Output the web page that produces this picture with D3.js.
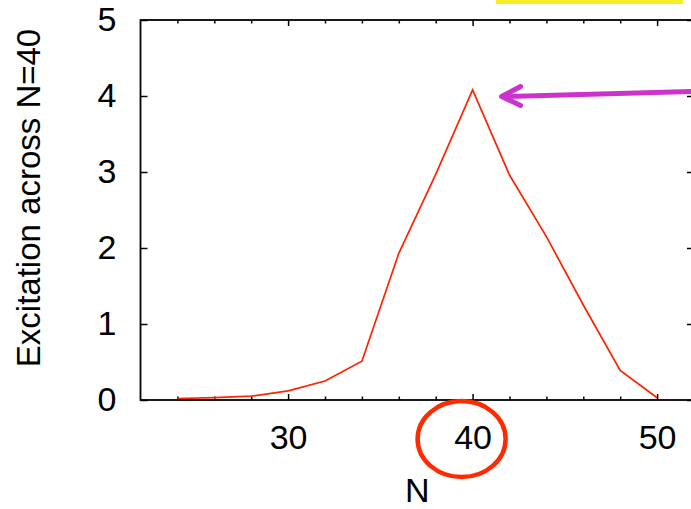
<!DOCTYPE html>
<html><head><meta charset="utf-8">
<script src="https://cdn.jsdelivr.net/npm/d3@7"></script>
<style>body{margin:0;background:#fff}svg{display:block}text{font-family:"Liberation Sans",Arial,sans-serif}</style>
</head><body>
<script>
const nValues = [24, 26, 28, 30, 32, 34, 36, 38, 40, 42, 44, 46, 48, 50];
const excitation = [0.02, 0.03, 0.05, 0.12, 0.25, 0.51, 1.93, 2.97, 4.08, 2.96, 2.15, 1.25, 0.39, 0.03];
const xMajorTicks = [30, 40, 50];
const xMinorTicks = [24, 26, 28, 32, 34, 36, 38, 42, 44, 46, 48, 52];
const yTicks = [0, 1, 2, 3, 4, 5];
const xLabel = "N";
const yLabel = "Excitation across N=40";

const W = 691, H = 509;
const svg = d3.select("body").append("svg").attr("width", W).attr("height", H);
const x = d3.scaleLinear().domain([22, 52]).range([140.5, 694]);
const y = d3.scaleLinear().domain([0, 5]).range([400, 20]);
const fs = 34;

// highlight bar at top
svg.append("rect").attr("x", 496).attr("y", 0).attr("width", 187).attr("height", 4).attr("fill", "#f5f028");

// frame
svg.append("rect").attr("x", x(22)).attr("y", y(5)).attr("width", x(52) - x(22)).attr("height", y(0) - y(5))
  .attr("fill", "none").attr("stroke", "#000").attr("stroke-width", 1.8);

function styleAxis(g) {
  g.select(".domain").remove();
  g.selectAll("line").attr("stroke", "#000").attr("stroke-width", 1.5);
  g.selectAll("text").attr("font-size", fs).attr("fill", "#000");
}
// bottom major + labels
svg.append("g").attr("transform", `translate(0,${y(0)})`)
  .call(d3.axisBottom(x).tickValues(xMajorTicks).tickSizeInner(-6).tickSizeOuter(0).tickPadding(25).tickFormat(d3.format("d")))
  .call(styleAxis);
svg.append("g").attr("transform", `translate(0,${y(0)})`)
  .call(d3.axisBottom(x).tickValues(xMinorTicks).tickSizeInner(-3.5).tickSizeOuter(0).tickFormat(""))
  .call(styleAxis);
// top mirrored
svg.append("g").attr("transform", `translate(0,${y(5)})`)
  .call(d3.axisTop(x).tickValues(xMajorTicks).tickSizeInner(-6).tickSizeOuter(0).tickFormat(""))
  .call(styleAxis);
svg.append("g").attr("transform", `translate(0,${y(5)})`)
  .call(d3.axisTop(x).tickValues(xMinorTicks).tickSizeInner(-3.5).tickSizeOuter(0).tickFormat(""))
  .call(styleAxis);
// left
svg.append("g").attr("transform", `translate(${x(22)},0)`)
  .call(d3.axisLeft(y).tickValues(yTicks).tickSizeInner(-7).tickSizeOuter(0).tickPadding(24).tickFormat(d3.format("d")))
  .call(styleAxis);
// right
svg.append("g").attr("transform", `translate(${x(52)},0)`)
  .call(d3.axisRight(y).tickValues(yTicks).tickSizeInner(-7).tickSizeOuter(0).tickFormat(""))
  .call(styleAxis);

// data line
const line = d3.line().x((d, i) => x(nValues[i])).y(d => y(d));
svg.append("path").datum(excitation).attr("d", line)
  .attr("fill", "none").attr("stroke", "#ff2200").attr("stroke-width", 1.7).attr("stroke-linejoin", "miter");

// axis labels
svg.append("text").attr("x", (x(22) + x(52)) / 2).attr("y", 502)
  .attr("text-anchor", "middle").attr("font-size", fs).text(xLabel);
svg.append("text").attr("transform", `translate(28,${(y(0) + y(5)) / 2 - 12}) rotate(-90)`).attr("dy", "0.35em")
  .attr("text-anchor", "middle").attr("font-size", 33).text(yLabel);

// annotation: circle around 40
svg.append("ellipse").attr("cx", x(40) - 11).attr("cy", 439).attr("rx", 44).attr("ry", 38)
  .attr("fill", "none").attr("stroke", "#ff2a00").attr("stroke-width", 4.5);

// annotation arrow pointing at the peak
const tipX = x(40) + 29, tipY = 96.5;
svg.append("line").attr("x1", W + 2).attr("y1", 91.5).attr("x2", tipX + 2).attr("y2", tipY)
  .attr("stroke", "#cc33cc").attr("stroke-width", 5).attr("stroke-linecap", "round");
svg.append("path").attr("d", `M${tipX + 19},${tipY - 10} L${tipX},${tipY} L${tipX + 19},${tipY + 9}`)
  .attr("fill", "none").attr("stroke", "#cc33cc").attr("stroke-width", 5).attr("stroke-linecap", "round").attr("stroke-linejoin", "round");
</script>
</body></html>
